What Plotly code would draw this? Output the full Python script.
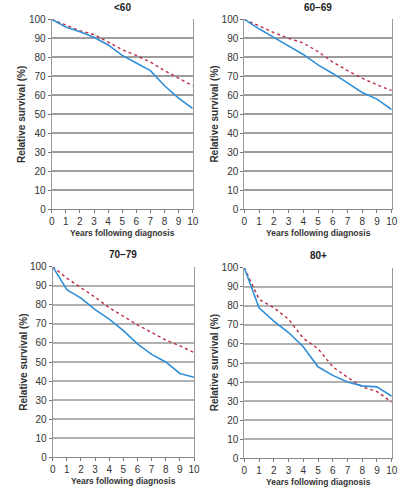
import plotly.graph_objects as go

years = [0, 1, 2, 3, 4, 5, 6, 7, 8, 9, 10]
panel_titles = ["<60", "60–69", "70–79", "80+"]

blue_lt60 = [100, 96, 93.5, 90.5, 86.5, 81, 77, 73, 65, 58.5, 53]
red_lt60 = [100, 97, 94, 92, 88, 84, 81, 77.5, 73, 69, 65]

blue_60_69 = [100, 95, 90.5, 86, 81.5, 76, 71.5, 66.5, 61.5, 58, 52.5]
red_60_69 = [100, 96.5, 93, 90, 87.5, 83, 77.5, 73, 69, 65.5, 62.5]

blue_70_79 = [100, 88, 83.5, 77.5, 72.5, 66.5, 59.5, 54, 50, 44, 42]
red_70_79 = [100, 94, 89, 84, 78.5, 74, 69.5, 65.5, 61.5, 58.5, 55]

blue_80p = [100, 79, 72, 66, 58.5, 48, 43.5, 40, 38, 37.5, 32.5]
red_80p = [100, 83.5, 79, 73, 63, 57.5, 48, 42.5, 37.5, 35, 29.5]

y_ticks = [0, 10, 20, 30, 40, 50, 60, 70, 80, 90, 100]

blue_series = [blue_lt60, blue_60_69, blue_70_79, blue_80p]
red_series = [red_lt60, red_60_69, red_70_79, red_80p]

W, H = 398, 500
# plot areas in pixels: (left, right, top, bottom)
boxes = [
    (51.7, 192.7, 19.3, 209.3),
    (244.3, 391.7, 19.3, 209.3),
    (52.7, 194.0, 266.7, 457.3),
    (244.3, 391.7, 267.7, 458.3),
]
grid_colors = ["#9c9c9c", "#9c9c9c", "#b0b0b0", "#b0b0b0"]

BLUE = "#2f8fd8"
RED = "#bb2d42"
FONT = "Arial, Liberation Sans, sans-serif"

fig = go.Figure()
layout = dict(
    width=W, height=H, autosize=False,
    margin=dict(l=0, r=0, t=0, b=0, pad=0),
    paper_bgcolor="white", plot_bgcolor="white", showlegend=False,
    font=dict(family=FONT, size=10, color="#333333"),
)
annotations = []
for i in range(4):
    l, r, t, b = boxes[i]
    xa = "xaxis" if i == 0 else f"xaxis{i+1}"
    ya = "yaxis" if i == 0 else f"yaxis{i+1}"
    xref = "x" if i == 0 else f"x{i+1}"
    yref = "y" if i == 0 else f"y{i+1}"
    fig.add_trace(go.Scatter(x=years, y=red_series[i], mode="lines",
                             line=dict(color=RED, width=1.4, dash="dot"),
                             xaxis=xref, yaxis=yref))
    fig.add_trace(go.Scatter(x=years, y=blue_series[i], mode="lines",
                             line=dict(color=BLUE, width=1.6),
                             xaxis=xref, yaxis=yref))
    layout[xa] = dict(
        domain=[l / W, r / W], range=[0, 10], anchor=yref,
        tickvals=years, ticks="outside", ticklen=3, tickcolor="#777777",
        showline=True, linecolor="#888888", linewidth=1,
        showgrid=False, zeroline=False, tickfont=dict(size=10, color="#333333"),
        fixedrange=True, automargin=False, ticklabeloverflow="allow",
    )
    layout[ya] = dict(
        domain=[1 - b / H, 1 - t / H], range=[0, 100], anchor=xref,
        tickvals=y_ticks, ticks="outside", ticklen=3, tickcolor="#777777",
        showline=True, mirror=True, linecolor="#999999", linewidth=1,
        showgrid=True, gridcolor=grid_colors[i], gridwidth=1.6, zeroline=False,
        tickfont=dict(size=10, color="#333333"), fixedrange=True,
        automargin=False, ticklabeloverflow="allow",
    )
    cx = (l + r) / 2 / W
    annotations.append(dict(text="<b>" + panel_titles[i] + "</b>", x=cx,
                            y=1 - (t - 12) / H,
                            xref="paper", yref="paper", showarrow=False,
                            xanchor="center", yanchor="middle",
                            font=dict(size=10, family=FONT, color="#222222")))
    annotations.append(dict(text="<b>Years following diagnosis</b>", x=cx,
                            y=1 - (b + 24) / H, xref="paper", yref="paper",
                            showarrow=False, xanchor="center", yanchor="middle",
                            font=dict(size=8.5, family=FONT, color="#333333")))
    annotations.append(dict(text="<b>Relative survival (%)</b>",
                            x=(l - 30) / W, y=1 - (t + b) / 2 / H,
                            xref="paper", yref="paper", showarrow=False,
                            textangle=-90, xanchor="center", yanchor="middle",
                            font=dict(size=10, family=FONT, color="#333333")))
layout["annotations"] = annotations
fig.update_layout(**layout)
fig.write_html(
    "out.html",
    config={"displayModeBar": False},
    post_script="document.body.style.margin='0';document.body.style.overflow='hidden';",
)
